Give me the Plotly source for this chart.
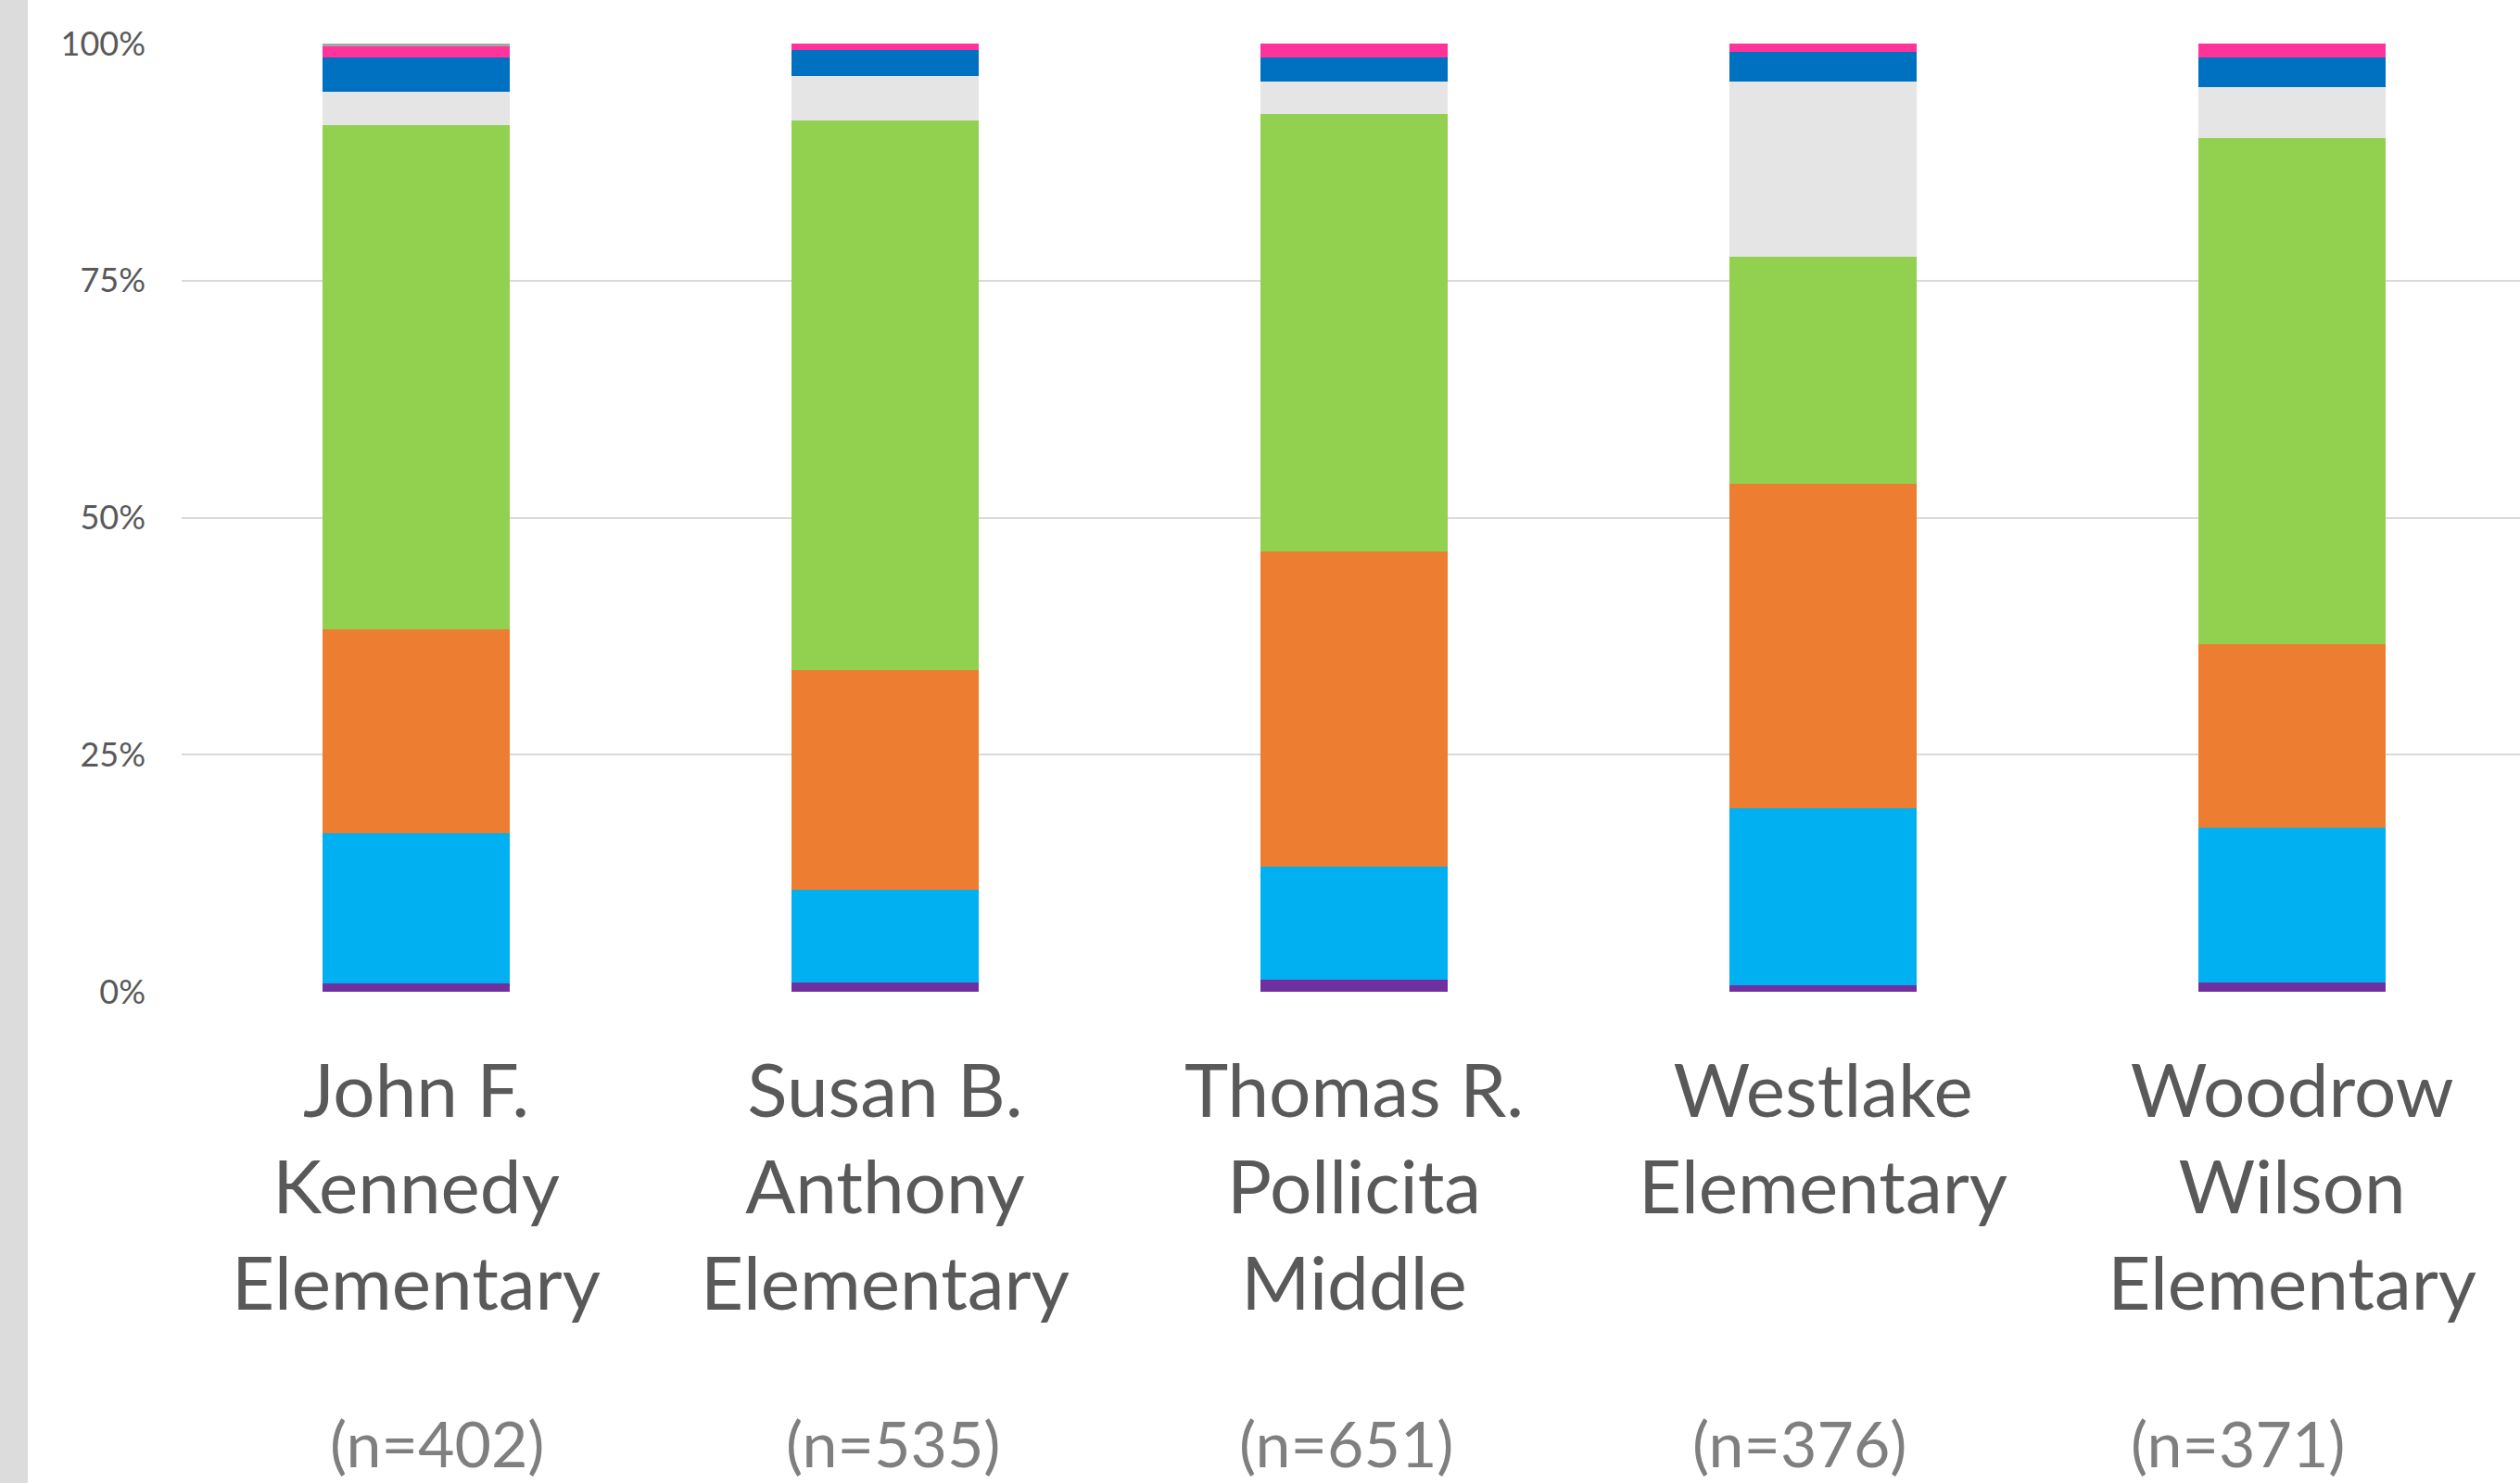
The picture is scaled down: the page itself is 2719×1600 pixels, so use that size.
import plotly.graph_objects as go

# ---- data (percent of students in each school) ----
schools = ["John F. Kennedy Elementary", "Susan B. Anthony Elementary",
           "Thomas R. Pollicita Middle", "Westlake Elementary", "Woodrow Wilson Elementary"]
school_labels = ["John F.<br>Kennedy<br>Elementary", "Susan B.<br>Anthony<br>Elementary",
                 "Thomas R.<br>Pollicita<br>Middle", "Westlake<br>Elementary",
                 "Woodrow<br>Wilson<br>Elementary"]
sample_sizes = ["(n=402)", "(n=535)", "(n=651)", "(n=376)", "(n=371)"]

cat1 = [0.91, 1.00, 1.30, 0.70, 1.00]      # purple
cat2 = [15.82, 9.76, 11.85, 18.67, 16.28]  # light blue
cat3 = [21.52, 23.20, 33.31, 34.22, 19.37] # orange
cat4 = [53.12, 57.93, 46.11, 23.95, 53.35] # green
cat5 = [3.55, 4.72, 3.42, 18.45, 5.41]     # light gray
cat6 = [3.64, 2.74, 2.57, 3.16, 3.15]      # blue
cat7 = [1.18, 0.65, 1.44, 0.85, 1.44]      # pink
cat8 = [0.26, 0.00, 0.00, 0.00, 0.00]      # dark gray

series = [
    ("Category 1", cat1, "#7030A0"),
    ("Category 2", cat2, "#00B0F0"),
    ("Category 3", cat3, "#ED7D31"),
    ("Category 4", cat4, "#92D050"),
    ("Category 5", cat5, "#E5E5E5"),
    ("Category 6", cat6, "#0070C0"),
    ("Category 7", cat7, "#FF3399"),
    ("Category 8", cat8, "#A6A6A6"),
]

y_ticks = [0, 25, 50, 75, 100]
y_ticktext = ["0%", "25%", "50%", "75%", "100%"]

# ---- styling ----
FONT = "Lato"
W, H = 2719, 1600
ML, MR, MT, MB = 196, 0, 47, 530
N_LABEL_XSHIFT = [22, 8, -9, -26, -59]   # the (n=...) text boxes sit slightly off-centre

fig = go.Figure()
for name, vals, col in series:
    fig.add_trace(go.Bar(
        x=schools, y=vals, name=name,
        marker=dict(color=col, line=dict(width=0)),
        hovertemplate="%{x}<br>" + name + ": %{y:.1f}%<extra></extra>",
    ))

for s, n, dx in zip(schools, sample_sizes, N_LABEL_XSHIFT):
    fig.add_annotation(x=s, xref="x", y=-0.476, yref="paper", xshift=dx,
                       text=n, showarrow=False, yanchor="middle",
                       font=dict(family=FONT, size=68, color="#7F7F7F"))

pw = W - ML - MR
ph = H - MT - MB
fig.add_shape(type="rect", xref="paper", yref="paper",
              x0=-ML / pw, x1=-(ML - 30) / pw, y0=-MB / ph, y1=1 + MT / ph,
              fillcolor="#DCDCDC", line=dict(width=0), layer="below")

fig.update_layout(
    width=W, height=H,
    margin=dict(l=ML, r=MR, t=MT, b=MB, pad=0),
    barmode="stack", bargap=0.6,
    showlegend=False,
    plot_bgcolor="white", paper_bgcolor="white",
    font=dict(family=FONT, color="#595959"),
    xaxis=dict(
        range=[-0.5, 4.486],
        tickmode="array", tickvals=schools, ticktext=school_labels,
        tickfont=dict(family=FONT, size=80, color="#595959"),
        showgrid=False, showline=False, zeroline=False,
        ticks="", ticklabelstandoff=54,
    ),
    yaxis=dict(
        range=[0, 100],
        tickmode="array", tickvals=y_ticks, ticktext=y_ticktext,
        tickfont=dict(family=FONT, size=36, color="#595959"),
        showgrid=True, gridcolor="#D9D9D9", gridwidth=1.5,
        zeroline=False, showline=False, ticks="",
        ticklabelstandoff=38,
    ),
)

fig.write_html("out.html", config={"displayModeBar": False},
               post_script="document.body.style.margin='0';document.body.style.overflow='hidden';")
